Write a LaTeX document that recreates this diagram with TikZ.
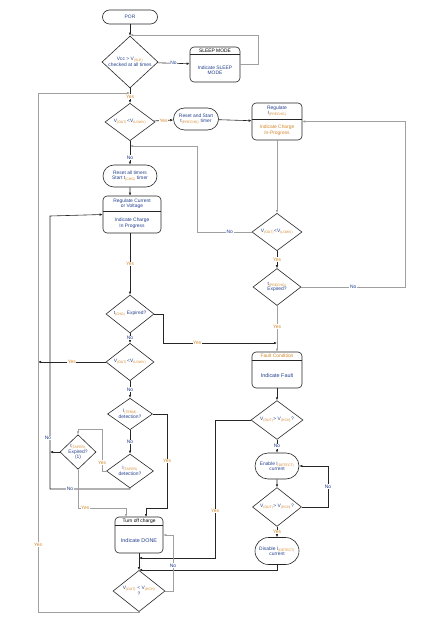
\documentclass[tikz,border=0pt]{standalone}
\usepackage{fontspec}
\setmainfont{Liberation Sans}
\usepackage{xcolor}
\usepackage{tikz}
\usetikzlibrary{shapes,arrows.meta,positioning,calc}
\definecolor{flowBlue}{HTML}{23408E}
\definecolor{flowOrange}{HTML}{D3872A}
\definecolor{lineDark}{HTML}{262626}
\definecolor{lineGray}{HTML}{A0A0A0}
\newcommand{\sbt}[1]{\textsubscript{\textcolor{flowOrange}{#1}}}

\begin{document}
\begin{tikzpicture}[
    x=1pt, y=-1pt,
    font=\fontsize{4.9}{5.5}\selectfont,
    dec/.style={diamond, draw=lineDark, line width=0.6pt, inner sep=0pt, align=center, text=flowBlue},
    pbox/.style={draw=lineDark, fill=white, rounded corners=4pt, line width=0.6pt},
    term/.style={rounded rectangle, draw=lineDark, line width=0.6pt, inner sep=0pt, align=center, text=flowBlue},
    txt/.style={align=center, text=flowBlue, inner sep=0pt},
    wire/.style={line width=0.6pt, draw=lineDark, -{Latex[length=3pt,width=2.6pt]}},
    lwire/.style={wire, draw=lineGray},
    plain/.style={line width=0.6pt, draw=lineDark},
    yes/.style={fill=white, inner sep=0.6pt, text=flowOrange},
    no/.style={fill=white, inner sep=0.6pt, text=flowBlue}
  ]
    \useasboundingbox (0,0) rectangle (436,620);

    % top part
    \node[pbox, rounded corners=7pt, minimum width=55, minimum height=14, text=flowBlue] (por) at (130,17) {POR};
    \node[dec, minimum width=56, minimum height=39] (dvcc) at (130,62) {Vcc > V\sbt{(SLP)}\\checked at all times};
    \node[pbox, minimum width=50, minimum height=35] (sleep) at (215,64.5) {};
    \draw[plain] ([yshift=-8]sleep.north west) -- ([yshift=-8]sleep.north east);
    \node[txt, text=black] at ([yshift=-4]sleep.north) {SLEEP MODE};
    \node[txt] at ([yshift=12]sleep.south) {Indicate SLEEP\\MODE};
    \coordinate (jtop) at (130,35);

    % pre-charge loop
    \node[dec, minimum width=50, minimum height=37] (dlow) at (130,122) {V\sbt{(OUT)}<V\sbt{(LOWV)}};
    \node[term, minimum width=45, minimum height=22] (rstpre) at (196,119) {Reset and Start\\t\sbt{(PRECHG)} timer};
    \node[pbox, minimum width=50, minimum height=37] (regpre) at (277,121.5) {};
    \draw[plain] ([yshift=-17]regpre.north west) -- ([yshift=-17]regpre.north east);
    \node[txt] at ([yshift=-8.5]regpre.north) {Regulate\\I\sbt{(PRECHG)}};
    \node[txt, text=flowOrange] at ([yshift=10]regpre.south) {Indicate Charge\\In-Progress};
    \node[dec, minimum width=50, minimum height=37] (dlow2) at (277,232) {V\sbt{(OUT)}<V\sbt{(LOWV)}};
    \node[dec, minimum width=48, minimum height=37] (dpre) at (277,287) {t\sbt{(PRECHG)}\\Expired?};

    % fault branch
    \node[pbox, minimum width=50, minimum height=36] (fault) at (277,370) {};
    \draw[plain] ([yshift=-9]fault.north west) -- ([yshift=-9]fault.north east);
    \node[txt, text=flowOrange] at ([yshift=-4.5]fault.north) {Fault Condition};
    \node[txt, font=\fontsize{5.4}{6}\selectfont] at ([yshift=13]fault.south) {Indicate Fault};
    \node[dec, minimum width=52, minimum height=35] (drch) at (277,420) {V\sbt{(OUT)}> V\sbt{(RCH)}?};
    \node[term, minimum width=44, minimum height=26] (enab) at (277,466) {Enable I\sbt{(DETECT)}\\current};
    \node[dec, minimum width=49, minimum height=27] (dlow3) at (277,507) {V\sbt{(OUT)}> V\sbt{(RCH)}?};
    \node[term, minimum width=44, minimum height=27] (disab) at (277,551) {Disable I\sbt{(DETECT)}\\current};

    % fast charge column
    \node[term, minimum width=54, minimum height=22] (rstall) at (130,176) {Reset all timers\\Start t\sbt{(CHG)} timer};
    \node[pbox, minimum width=58, minimum height=37] (regcv) at (132,214.5) {};
    \draw[plain] ([yshift=-16]regcv.north west) -- ([yshift=-16]regcv.north east);
    \node[txt] at ([yshift=-8]regcv.north) {Regulate Current\\or Voltage};
    \node[txt] at ([yshift=10]regcv.south) {Indicate Charge\\In Progress};
    \node[dec, minimum width=48, minimum height=38] (dchg) at (130,314) {t\sbt{(CHG)} Expired?};
    \node[dec, minimum width=48, minimum height=37] (dlow4) at (130,362) {V\sbt{(OUT)}<V\sbt{(LOWV)}};
    \node[dec, minimum width=45, minimum height=31] (dterm) at (130,414) {I\sbt{(TERM)}\\detection?};
    \node[dec, minimum width=47, minimum height=34] (dtaper) at (130,471) {I\sbt{(TAPER)}\\detection?};
    \node[dec, minimum width=36, minimum height=29] (dtexp) at (78,452) {t\sbt{(TAPER)}\\Expired?\\(1)};
    \node[pbox, minimum width=48, minimum height=36] (off) at (139,535) {};
    \draw[plain] ([yshift=-9]off.north west) -- ([yshift=-9]off.north east);
    \node[txt, text=black] at ([yshift=-4.5]off.north) {Turn off charge};
    \node[txt, font=\fontsize{5.4}{6}\selectfont] at ([yshift=13]off.south) {Indicate DONE};
    \node[dec, minimum width=52, minimum height=31] (drch2) at (139,591) {V\sbt{(OUT)} < V\sbt{(RCH)}\\?};

    % connectors
    \draw[wire] (por) -- (dvcc);
    \draw[wire] (dvcc) -- node[no] {No} (sleep);
    \draw[lwire] (sleep.east) -| (258,35) -- (jtop);
    \draw[wire] (dvcc) -- node[yes, pos=0.55] {Yes} (dlow);
    \draw[wire] (dlow) -- node[yes] {Yes} (rstpre);
    \draw[wire] (rstpre) -- (regpre);
    \draw[lwire] (regpre) -- (dlow2);
    \coordinate (jlow) at (130,146);
    \draw[lwire] (dlow2.west) -- node[no, pos=0.4] {No} (197,232) -- (197,146) -- (jlow);
    \draw[wire] (dlow2) -- node[yes] {Yes} (dpre);
    \draw[lwire] (dpre.east) -- node[no] {No} (405,287) -- (405,121.5) -- (regpre.east);
    \coordinate (jfault) at (277,343);
    \draw[lwire] (dpre) -- node[yes, pos=0.45] {Yes} (fault);
    \draw[wire] (dlow) -- node[no, pos=0.7] {No} (rstall);
    \draw[wire] (rstall) -- (rstall |- regcv.north);
    \draw[wire] (130,233) -- node[yes] {Yes} (dchg);
    \draw[wire] (dchg.east) -- (163,314) -- (163,343) -- node[yes, pos=0.3] {Yes} (jfault);
    \draw[wire] (fault) -- (drch);
    \coordinate (jdone) at (139,558);
    \draw[wire] (drch.west) -- (215,420) -- node[yes, pos=0.66] {Yes} (215,558) -- (jdone);
    \draw[wire] (drch) -- node[no] {No} (enab);
    \draw[wire] (enab) -- (dlow3);
    \draw[wire] (dlow3.east) -- (328,507) -- node[no] {No} (328,466) -- (enab.east);
    \draw[wire] (dlow3) -- node[yes] {Yes} (disab);
    \coordinate (jdis) at (139,570);
    \draw[wire] (disab.south) -- (277,570) -- (jdis);
    \draw[wire] (dchg) -- node[no] {No} (dlow4);
    \coordinate (jleft) at (38,362);
    \draw[wire] (dlow4.west) -- node[yes] {Yes} (jleft);
    \draw[wire] (dlow4) -- node[no] {No} (dterm);
    \draw[wire] (dterm.east) -- (167,414) -- node[yes] {Yes} (167,508) -- (146,508) -- (146,517);
    \draw[wire] (dterm) -- node[no] {No} (dtaper);
    \draw[lwire] (dtaper.west) -- (102,471) -- node[yes, pos=0.2] {Yes} (102,429) -- (78,429) -- (dtexp.north);
    \draw[wire] (dtaper.south) -- (130,489) -- node[no, pos=0.75] {No} (50,489) -- (50,216) -- (regcv.west);
    \draw[wire] (dtexp.west) -- (50,452);
    \node[no] at (48,438) {No};
    \draw[lwire] (dtexp.south) -- (78,508) -- node[yes, pos=0.15] {Yes} (126,508) -- (126,517);
    \draw[wire] (off) -- (drch2);
    \draw[lwire] (drch2.east) -- (173,591) -- node[no, pos=0.45] {No} (173,535) -- (off.east);
    \draw[lwire] (drch2.south) -- (139,612) -- (38,612) -- node[yes, pos=0.13] {Yes} (38,93) -- (130,93);
  \end{tikzpicture}
\end{document}
